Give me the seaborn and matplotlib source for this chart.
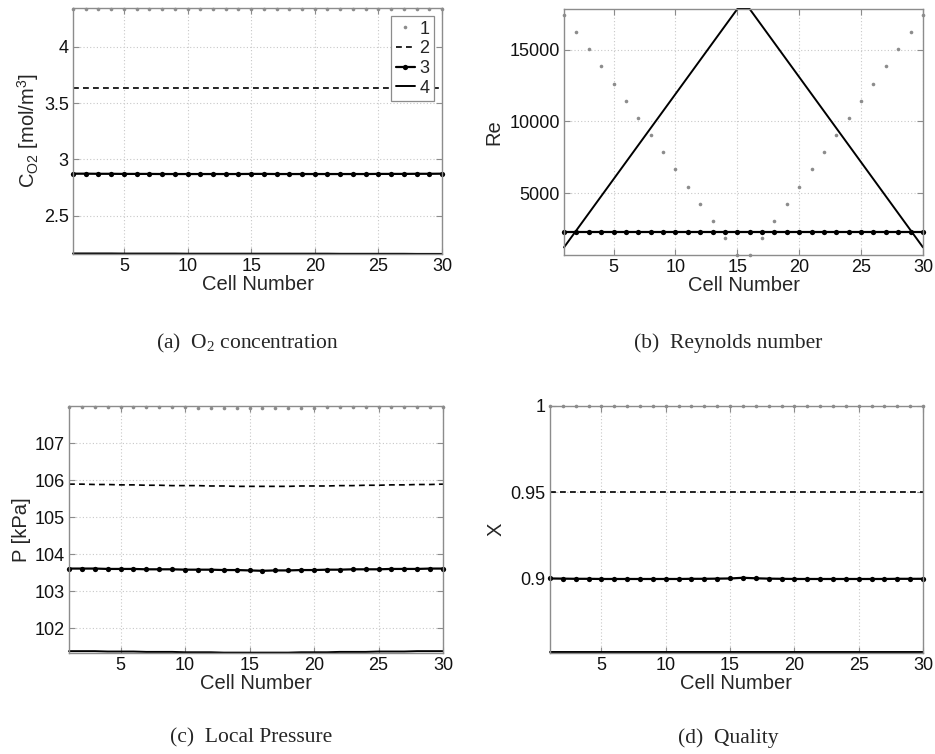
import matplotlib
matplotlib.use("Agg")
import matplotlib.pyplot as plt
import seaborn as sns
import numpy as np
from matplotlib.ticker import FuncFormatter

# ---------------- data ----------------
cells = [1, 2, 3, 4, 5, 6, 7, 8, 9, 10, 11, 12, 13, 14, 15,
         16, 17, 18, 19, 20, 21, 22, 23, 24, 25, 26, 27, 28, 29, 30]
series_labels = ["1", "2", "3", "4"]

# (a) O2 concentration [mol/m^3]
o2_1 = [4.340, 4.340, 4.340, 4.340, 4.340, 4.340, 4.340, 4.340, 4.340, 4.340,
        4.340, 4.340, 4.340, 4.340, 4.340, 4.340, 4.340, 4.340, 4.340, 4.340,
        4.340, 4.340, 4.340, 4.340, 4.340, 4.340, 4.340, 4.340, 4.340, 4.340]
o2_2 = [3.637, 3.637, 3.637, 3.637, 3.637, 3.637, 3.637, 3.637, 3.637, 3.637,
        3.637, 3.637, 3.637, 3.637, 3.637, 3.637, 3.637, 3.637, 3.637, 3.637,
        3.637, 3.637, 3.637, 3.637, 3.637, 3.637, 3.637, 3.637, 3.637, 3.637]
o2_3 = [2.872, 2.872, 2.871, 2.871, 2.870, 2.870, 2.870, 2.869, 2.869, 2.869,
        2.869, 2.869, 2.869, 2.869, 2.870, 2.870, 2.869, 2.869, 2.869, 2.869,
        2.869, 2.869, 2.869, 2.869, 2.870, 2.870, 2.870, 2.871, 2.871, 2.872]
o2_4 = [2.163, 2.163, 2.163, 2.163, 2.162, 2.162, 2.162, 2.162, 2.162, 2.161,
        2.161, 2.161, 2.161, 2.161, 2.161, 2.161, 2.161, 2.161, 2.161, 2.161,
        2.161, 2.160, 2.160, 2.160, 2.160, 2.160, 2.160, 2.159, 2.159, 2.159]

# (b) Reynolds number
re_1 = [17430, 16230, 15020, 13840, 12640, 11440, 10260, 9030, 7830, 6650,
        5420, 4240, 3040, 1830, 700, 700, 1830, 3040, 4240, 5420,
        6650, 7830, 9030, 10260, 11440, 12640, 13840, 15020, 16230, 17430]
re_2 = [2250, 2250, 2250, 2250, 2250, 2250, 2250, 2250, 2250, 2250,
        2250, 2250, 2250, 2250, 2250, 2250, 2250, 2250, 2250, 2250,
        2250, 2250, 2250, 2250, 2250, 2250, 2250, 2250, 2250, 2250]
re_3 = [2250, 2250, 2250, 2250, 2250, 2250, 2250, 2250, 2250, 2250,
        2250, 2250, 2250, 2250, 2250, 2250, 2250, 2250, 2250, 2250,
        2250, 2250, 2250, 2250, 2250, 2250, 2250, 2250, 2250, 2250]
re_4 = [1210, 2398, 3586, 4774, 5962, 7150, 8338, 9526, 10714, 11902,
        13090, 14278, 15466, 16654, 17840, 17840, 16654, 15466, 14278, 13090,
        11902, 10714, 9526, 8338, 7150, 5962, 4774, 3586, 2398, 1210]

# (c) Local pressure [kPa]
p_1 = [107.98, 107.98, 107.98, 107.97, 107.97, 107.97, 107.96, 107.96, 107.96, 107.96,
       107.95, 107.95, 107.95, 107.95, 107.95, 107.95, 107.95, 107.95, 107.95, 107.95,
       107.96, 107.96, 107.96, 107.96, 107.97, 107.97, 107.97, 107.98, 107.98, 107.98]
p_2 = [105.89, 105.89, 105.88, 105.88, 105.87, 105.87, 105.86, 105.86, 105.85, 105.85,
       105.85, 105.84, 105.84, 105.83, 105.83, 105.83, 105.83, 105.83, 105.84, 105.84,
       105.84, 105.85, 105.85, 105.86, 105.86, 105.87, 105.87, 105.88, 105.88, 105.89]
p_3 = [103.61, 103.61, 103.61, 103.60, 103.60, 103.60, 103.59, 103.59, 103.59, 103.58,
       103.58, 103.58, 103.57, 103.57, 103.56, 103.55, 103.56, 103.56, 103.57, 103.57,
       103.58, 103.58, 103.59, 103.59, 103.59, 103.60, 103.60, 103.60, 103.61, 103.61]
p_4 = [101.38, 101.38, 101.38, 101.37, 101.37, 101.37, 101.36, 101.36, 101.36, 101.35,
       101.35, 101.35, 101.34, 101.34, 101.34, 101.34, 101.34, 101.34, 101.35, 101.35,
       101.35, 101.36, 101.36, 101.36, 101.37, 101.37, 101.37, 101.38, 101.38, 101.38]

# (d) Quality
q_1 = [1.0, 1.0, 1.0, 1.0, 1.0, 1.0, 1.0, 1.0, 1.0, 1.0,
       1.0, 1.0, 1.0, 1.0, 1.0, 1.0, 1.0, 1.0, 1.0, 1.0,
       1.0, 1.0, 1.0, 1.0, 1.0, 1.0, 1.0, 1.0, 1.0, 1.0]
q_2 = [0.950, 0.950, 0.950, 0.950, 0.950, 0.950, 0.950, 0.950, 0.950, 0.950,
       0.950, 0.950, 0.950, 0.950, 0.950, 0.950, 0.950, 0.950, 0.950, 0.950,
       0.950, 0.950, 0.950, 0.950, 0.950, 0.950, 0.950, 0.950, 0.950, 0.950]
q_3 = [0.8998, 0.8997, 0.8996, 0.8996, 0.8995, 0.8995, 0.8995, 0.8995, 0.8995, 0.8995,
       0.8995, 0.8996, 0.8996, 0.8997, 0.8998, 0.9002, 0.8999, 0.8997, 0.8996, 0.8995,
       0.8995, 0.8995, 0.8995, 0.8995, 0.8995, 0.8995, 0.8995, 0.8996, 0.8996, 0.8996]
q_4 = [0.8570, 0.8570, 0.8570, 0.8570, 0.8570, 0.8570, 0.8570, 0.8570, 0.8570, 0.8570,
       0.8570, 0.8570, 0.8570, 0.8570, 0.8570, 0.8570, 0.8570, 0.8570, 0.8570, 0.8570,
       0.8570, 0.8570, 0.8570, 0.8570, 0.8570, 0.8570, 0.8570, 0.8570, 0.8570, 0.8570]

xticks = [5, 10, 15, 20, 25, 30]

# ---------------- style ----------------
sns.set_style("white")
plt.rcParams["font.family"] = ["Liberation Sans", "DejaVu Sans"]
plt.rcParams["mathtext.fontset"] = "custom"
plt.rcParams["mathtext.rm"] = "Liberation Sans"
plt.rcParams["mathtext.it"] = "Liberation Sans"

fig = plt.figure(figsize=(9.35, 7.54), dpi=100)
fig.patch.set_facecolor("white")

W, H = 935.0, 754.0
def box(l, r, t, b):
    return [l / W, 1 - b / H, (r - l) / W, (b - t) / H]

ax_a = fig.add_axes(box(73, 442, 8, 254))
ax_b = fig.add_axes(box(564, 923, 9, 255))
ax_c = fig.add_axes(box(69, 443, 406, 653))
ax_d = fig.add_axes(box(550, 923, 406, 653))

GRAY = "#8c8c8c"
FS = 13
LFS = 14.5

def draw(ax, s1, s2, s3, s4):
    sns.lineplot(x=cells, y=s1, ax=ax, color=GRAY, linestyle="None", marker="o",
                 markersize=2.6, markeredgewidth=0, label=series_labels[0], clip_on=False)
    sns.lineplot(x=cells, y=s2, ax=ax, color="black", linestyle=(0, (3.5, 2.5)),
                 linewidth=1.2, label=series_labels[1], clip_on=False)
    sns.lineplot(x=cells, y=s3, ax=ax, color="black", linewidth=1.6, marker="o",
                 markersize=3.8, markeredgewidth=0, label=series_labels[2], clip_on=False)
    sns.lineplot(x=cells, y=s4, ax=ax, color="black", linewidth=1.4,
                 label=series_labels[3], clip_on=False)

def style(ax, ylim, yticks, ylabel, fmt, ypad):
    ax.set_xlim(1, 30)
    ax.set_ylim(*ylim)
    ax.set_xticks(xticks)
    ax.set_yticks(yticks)
    ax.yaxis.set_major_formatter(FuncFormatter(fmt))
    ax.grid(True, linestyle=(0, (1, 2)), color="#c8c8c8", linewidth=0.8)
    ax.set_axisbelow(True)
    for sp in ax.spines.values():
        sp.set_visible(True)
        sp.set_color(GRAY)
        sp.set_linewidth(1.0)
    ax.tick_params(axis="both", direction="in", length=4, width=0.8, color=GRAY,
                   labelsize=FS, labelcolor="#111111", top=True, right=True,
                   bottom=True, left=True, pad=3)
    ax.set_xlabel("Cell Number", fontsize=LFS, labelpad=0)
    ax.set_ylabel(ylabel, fontsize=LFS, labelpad=ypad)
    ax.set_facecolor("white")

gfmt = lambda v, p: "%g" % v
draw(ax_a, o2_1, o2_2, o2_3, o2_4)
style(ax_a, (2.158, 4.345), [2.5, 3, 3.5, 4],
      r"C$_{\mathregular{O2}}$ [mol/m$^{\mathregular{3}}$]", gfmt, 2)
leg = ax_a.legend(loc="upper right", fontsize=FS, frameon=True, fancybox=False,
                  edgecolor=GRAY, framealpha=1, handlelength=1.05, handletextpad=0.25,
                  labelspacing=0.15, borderpad=0.25, borderaxespad=0.45)
leg.get_frame().set_linewidth(0.9)

draw(ax_b, re_1, re_2, re_3, re_4)
style(ax_b, (676, 17840), [5000, 10000, 15000], "Re", lambda v, p: "%d" % v, 4)
ax_b.get_legend().remove()

draw(ax_c, p_1, p_2, p_3, p_4)
style(ax_c, (101.33, 108.0), [102, 103, 104, 105, 106, 107], "P [kPa]", gfmt, 2.5)
ax_c.get_legend().remove()

draw(ax_d, q_1, q_2, q_3, q_4)
style(ax_d, (0.8565, 1.0), [0.9, 0.95, 1.0], "X", gfmt, 4)
ax_d.get_legend().remove()

# captions
cap_kw = dict(ha="center", va="center", fontsize=15.5, family="Liberation Serif")
fig.text(247 / W, 1 - 343 / H, r"(a)  O$_{\mathregular{2}}$ concentration", **cap_kw)
fig.text(728 / W, 1 - 343 / H, "(b)  Reynolds number", **cap_kw)
fig.text(251 / W, 1 - 738 / H, "(c)  Local Pressure", **cap_kw)
fig.text(728 / W, 1 - 738 / H, "(d)  Quality", **cap_kw)

fig.savefig("out.png", dpi=100, facecolor="white")
